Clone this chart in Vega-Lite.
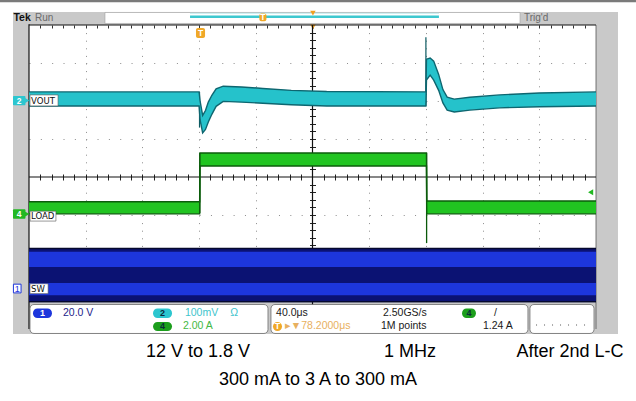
{
  "$schema": "https://vega.github.io/schema/vega-lite/v6.json",
  "width": 567,
  "height": 304,
  "autosize": {"type": "none"},
  "padding": {"left": 29, "top": 25, "right": 40, "bottom": 72},
  "background": "white",
  "config": {"view": {"stroke": null}, "font": "Liberation Sans"},
  "resolve": {"axis": {"x": "independent", "y": "independent"}, "scale": {"color": "independent"}},
  "layer": [
    {
      "data": {"values": [
        {"t": -20.46, "t2": 428.2, "d": 8.658, "d2": 8.6}
      ]},
      "mark": {"type": "rect", "color": "#7a7a7a"},
      "encoding": {
        "x": {"field": "t", "type": "quantitative", "scale": {"domain": [0, 400], "nice": false, "zero": false}, "axis": null},
        "x2": {"field": "t2"},
        "y": {"field": "d", "type": "quantitative", "scale": {"domain": [0, 8], "nice": false, "zero": false}, "axis": null},
        "y2": {"field": "d2"}
      }
    },
    {
      "data": {"values": [
        {"t": -11.29, "t2": 415.5, "d": 8.342, "d2": 8.0},
        {"t": -11.29, "t2": 0, "d": 8.342, "d2": -0.13},
        {"t": 400, "t2": 415.5, "d": 8.342, "d2": -0.13},
        {"t": -11.29, "t2": 415.5, "d": 0.7, "d2": -0.13}
      ]},
      "mark": {"type": "rect", "color": "#c9c9c9"},
      "encoding": {
        "x": {"field": "t", "type": "quantitative", "scale": {"domain": [0, 400], "nice": false, "zero": false}, "axis": null},
        "x2": {"field": "t2"},
        "y": {"field": "d", "type": "quantitative", "scale": {"domain": [0, 8], "nice": false, "zero": false}, "axis": null},
        "y2": {"field": "d2"}
      }
    },
    {
      "data": {"values": [
        {"t": 53.6, "t2": 346.4, "d": 8.33, "d2": 8.04}
      ]},
      "mark": {"type": "rect", "color": "white", "stroke": "#a0a0a0", "strokeWidth": 0.6},
      "encoding": {
        "x": {"field": "t", "type": "quantitative", "scale": {"domain": [0, 400], "nice": false, "zero": false}, "axis": null},
        "x2": {"field": "t2"},
        "y": {"field": "d", "type": "quantitative", "scale": {"domain": [0, 8], "nice": false, "zero": false}, "axis": null},
        "y2": {"field": "d2"}
      }
    },
    {
      "data": {"values": [
        {"t": 113.6, "t2": 289.2, "d": 8.22}
      ]},
      "mark": {"type": "rule", "color": "#3cc8cf", "strokeWidth": 2.5},
      "encoding": {
        "x": {"field": "t", "type": "quantitative", "scale": {"domain": [0, 400], "nice": false, "zero": false}, "axis": null},
        "x2": {"field": "t2"},
        "y": {"field": "d", "type": "quantitative", "scale": {"domain": [0, 8], "nice": false, "zero": false}, "axis": null}
      }
    },
    {
      "data": {"values": [
        {"t": 113.6, "t2": 289.2, "d": 8.31}
      ]},
      "mark": {"type": "rule", "color": "#a8e4e8", "strokeWidth": 0.8},
      "encoding": {
        "x": {"field": "t", "type": "quantitative", "scale": {"domain": [0, 400], "nice": false, "zero": false}, "axis": null},
        "x2": {"field": "t2"},
        "y": {"field": "d", "type": "quantitative", "scale": {"domain": [0, 8], "nice": false, "zero": false}, "axis": null}
      }
    },
    {
      "data": {"values": [
        {"t": 162.5, "t2": 167.5, "d": 8.3, "d2": 8.1},
        {"t": 117.8, "t2": 124.2, "d": 7.92, "d2": 7.66}
      ]},
      "mark": {"type": "rect", "color": "#f0a828", "cornerRadius": 2},
      "encoding": {
        "x": {"field": "t", "type": "quantitative", "scale": {"domain": [0, 400], "nice": false, "zero": false}, "axis": null},
        "x2": {"field": "t2"},
        "y": {"field": "d", "type": "quantitative", "scale": {"domain": [0, 8], "nice": false, "zero": false}, "axis": null},
        "y2": {"field": "d2"}
      }
    },
    {
      "data": {"values": [
        {"t": 200.3, "d": 8.31},
        {"t": 200.3, "d": 7.95}
      ]},
      "mark": {"type": "point", "shape": "triangle-down", "filled": true, "color": "#f0a020", "size": 30, "opacity": 1},
      "encoding": {
        "x": {"field": "t", "type": "quantitative", "scale": {"domain": [0, 400], "nice": false, "zero": false}, "axis": null},
        "y": {"field": "d", "type": "quantitative", "scale": {"domain": [0, 8], "nice": false, "zero": false}, "axis": null}
      }
    },
    {
      "data": {"values": [{"t": 0, "d": 0}]},
      "mark": {"type": "point", "opacity": 0},
      "encoding": {
        "x": {"field": "t", "type": "quantitative", "scale": {"domain": [0, 400], "nice": false, "zero": false},
          "axis": {"orient": "bottom", "grid": true, "values": [40, 80, 120, 160, 240, 280, 320, 360, 400], "gridDash": [1, 6.6], "gridColor": "#8c8c8c", "gridOpacity": 1, "gridWidth": 1, "domain": false, "ticks": false, "labels": false, "title": null}},
        "y": {"field": "d", "type": "quantitative", "scale": {"domain": [0, 8], "nice": false, "zero": false},
          "axis": {"orient": "left", "grid": true, "values": [1, 2, 3, 5, 6, 7], "gridDash": [1, 10.34], "gridColor": "#8c8c8c", "gridOpacity": 1, "gridWidth": 1, "domain": false, "ticks": false, "labels": false, "title": null}}
      }
    },
    {
      "data": {"values": [{"t": 0, "d": 0}]},
      "mark": {"type": "point", "opacity": 0},
      "encoding": {
        "x": {"field": "t", "type": "quantitative", "scale": {"domain": [0, 400], "nice": false, "zero": false},
          "axis": {"orient": "bottom", "offset": -155, "values": [8, 16, 24, 32, 40, 48, 56, 64, 72, 80, 88, 96, 104, 112, 120, 128, 136, 144, 152, 160, 168, 176, 184, 192, 208, 216, 224, 232, 240, 248, 256, 264, 272, 280, 288, 296, 304, 312, 320, 328, 336, 344, 352, 360, 368, 376, 384, 392], "tickSize": 6, "tickColor": "#222222", "tickWidth": 1, "domain": false, "labels": false, "grid": false, "title": null}},
        "y": {"field": "d", "type": "quantitative", "scale": {"domain": [0, 8], "nice": false, "zero": false},
          "axis": {"orient": "left", "offset": -286.5, "values": [0.2, 0.4, 0.6, 0.8, 1, 1.2, 1.4, 1.6, 1.8, 2, 2.2, 2.4, 2.6, 2.8, 3, 3.2, 3.4, 3.6, 3.8, 4.2, 4.4, 4.6, 4.8, 5, 5.2, 5.4, 5.6, 5.8, 6, 6.2, 6.4, 6.6, 6.8, 7, 7.2, 7.4, 7.6, 7.8], "tickSize": 6, "tickColor": "#222222", "tickWidth": 1, "domain": false, "labels": false, "grid": false, "title": null}}
      }
    },
    {
      "data": {"values": [{"t": 0, "d": 0}]},
      "mark": {"type": "point", "opacity": 0},
      "encoding": {
        "x": {"field": "t", "type": "quantitative", "scale": {"domain": [0, 400], "nice": false, "zero": false},
          "axis": {"orient": "bottom", "offset": -304, "values": [8, 16, 24, 32, 40, 48, 56, 64, 72, 80, 88, 96, 104, 112, 120, 128, 136, 144, 152, 160, 168, 176, 184, 192, 200, 208, 216, 224, 232, 240, 248, 256, 264, 272, 280, 288, 296, 304, 312, 320, 328, 336, 344, 352, 360, 368, 376, 384, 392], "tickSize": 3, "tickColor": "#333333", "tickWidth": 1, "domain": false, "labels": false, "grid": false, "title": null}},
        "y": {"field": "d", "type": "quantitative", "scale": {"domain": [0, 8], "nice": false, "zero": false}, "axis": null}
      }
    },
    {
      "data": {"values": [
        {"t": 200, "d": 0, "d2": 8},
        {"t": 0, "d": 0, "d2": 8.02}
      ]},
      "mark": {"type": "rule", "color": "#111111", "strokeWidth": 1.2},
      "encoding": {
        "x": {"field": "t", "type": "quantitative", "scale": {"domain": [0, 400], "nice": false, "zero": false}, "axis": null},
        "y": {"field": "d", "type": "quantitative", "scale": {"domain": [0, 8], "nice": false, "zero": false}, "axis": null},
        "y2": {"field": "d2"}
      }
    },
    {
      "data": {"values": [
        {"t": 400, "d": 0, "d2": 8}
      ]},
      "mark": {"type": "rule", "color": "#555555", "strokeWidth": 0.8},
      "encoding": {
        "x": {"field": "t", "type": "quantitative", "scale": {"domain": [0, 400], "nice": false, "zero": false}, "axis": null},
        "y": {"field": "d", "type": "quantitative", "scale": {"domain": [0, 8], "nice": false, "zero": false}, "axis": null},
        "y2": {"field": "d2"}
      }
    },
    {
      "data": {"values": [
        {"d": 4, "t": 0, "t2": 400},
        {"d": 8, "t": 0, "t2": 400}
      ]},
      "mark": {"type": "rule", "color": "#111111", "strokeWidth": 1.2},
      "encoding": {
        "x": {"field": "t", "type": "quantitative", "scale": {"domain": [0, 400], "nice": false, "zero": false}, "axis": null},
        "x2": {"field": "t2"},
        "y": {"field": "d", "type": "quantitative", "scale": {"domain": [0, 8], "nice": false, "zero": false}, "axis": null}
      }
    },
    {
      "data": {"values": [
        {"t": 0, "t2": 400, "d": 0.71, "d2": 2.13}
      ]},
      "mark": {"type": "rect", "color": "#0b1273"},
      "encoding": {
        "x": {"field": "t", "type": "quantitative", "scale": {"domain": [0, 400], "nice": false, "zero": false}, "axis": null},
        "x2": {"field": "t2"},
        "y": {"field": "d", "type": "quantitative", "scale": {"domain": [0, 8], "nice": false, "zero": false}, "axis": null},
        "y2": {"field": "d2"}
      }
    },
    {
      "data": {"values": [
        {"t": 0, "t2": 400, "d": 1.63, "d2": 2.03},
        {"t": 0, "t2": 400, "d": 0.89, "d2": 1.21}
      ]},
      "mark": {"type": "rect", "color": "#1d36dc"},
      "encoding": {
        "x": {"field": "t", "type": "quantitative", "scale": {"domain": [0, 400], "nice": false, "zero": false}, "axis": null},
        "x2": {"field": "t2"},
        "y": {"field": "d", "type": "quantitative", "scale": {"domain": [0, 8], "nice": false, "zero": false}, "axis": null},
        "y2": {"field": "d2"}
      }
    },
    {
      "data": {"values": [
        {"t": 0, "t2": 400, "d": 2.12},
        {"t": 0, "t2": 400, "d": 0.72}
      ]},
      "mark": {"type": "rule", "color": "#05082e", "strokeWidth": 1.5},
      "encoding": {
        "x": {"field": "t", "type": "quantitative", "scale": {"domain": [0, 400], "nice": false, "zero": false}, "axis": null},
        "x2": {"field": "t2"},
        "y": {"field": "d", "type": "quantitative", "scale": {"domain": [0, 8], "nice": false, "zero": false}, "axis": null}
      }
    },
    {
      "data": {"values": [
        {"t": 120.5, "d": 3.05, "d2": 4.63},
        {"t": 280.5, "d": 2.26, "d2": 4.63}
      ]},
      "mark": {"type": "rule", "color": "#0a5a0a", "strokeWidth": 1.3},
      "encoding": {
        "x": {"field": "t", "type": "quantitative", "scale": {"domain": [0, 400], "nice": false, "zero": false}, "axis": null},
        "y": {"field": "d", "type": "quantitative", "scale": {"domain": [0, 8], "nice": false, "zero": false}, "axis": null},
        "y2": {"field": "d2"}
      }
    },
    {
      "data": {"name": "load", "values": [
        {"t": 0, "lo": 3.03, "hi": 3.35},
        {"t": 120.4, "lo": 3.03, "hi": 3.35},
        {"t": 120.6, "lo": 4.29, "hi": 4.63},
        {"t": 280.4, "lo": 4.29, "hi": 4.63},
        {"t": 280.6, "lo": 3.03, "hi": 3.37},
        {"t": 400, "lo": 3.03, "hi": 3.37}
      ]},
      "layer": [
        {
          "mark": {"type": "area", "color": "#21c421", "opacity": 1},
          "encoding": {
            "x": {"field": "t", "type": "quantitative", "scale": {"domain": [0, 400], "nice": false, "zero": false}, "axis": null},
            "y": {"field": "lo", "type": "quantitative", "scale": {"domain": [0, 8], "nice": false, "zero": false}, "axis": null},
            "y2": {"field": "hi"}
          }
        },
        {
          "mark": {"type": "line", "color": "#0b5c0b", "strokeWidth": 1.4},
          "encoding": {
            "x": {"field": "t", "type": "quantitative", "scale": {"domain": [0, 400], "nice": false, "zero": false}, "axis": null},
            "y": {"field": "hi", "type": "quantitative", "scale": {"domain": [0, 8], "nice": false, "zero": false}, "axis": null}
          }
        },
        {
          "mark": {"type": "line", "color": "#0b5c0b", "strokeWidth": 1.4},
          "encoding": {
            "x": {"field": "t", "type": "quantitative", "scale": {"domain": [0, 400], "nice": false, "zero": false}, "axis": null},
            "y": {"field": "lo", "type": "quantitative", "scale": {"domain": [0, 8], "nice": false, "zero": false}, "axis": null}
          }
        }
      ]
    },
    {
      "data": {"values": [
        {"t": 280, "d": 5.87, "d2": 7.68},
        {"t": 120.3, "d": 5.3, "d2": 6.24}
      ]},
      "mark": {"type": "rule", "color": "#0d5a62", "strokeWidth": 1.2},
      "encoding": {
        "x": {"field": "t", "type": "quantitative", "scale": {"domain": [0, 400], "nice": false, "zero": false}, "axis": null},
        "y": {"field": "d", "type": "quantitative", "scale": {"domain": [0, 8], "nice": false, "zero": false}, "axis": null},
        "y2": {"field": "d2"}
      }
    },
    {
      "data": {"name": "vout", "values": [
        {"t": 0, "lo": 5.87, "hi": 6.24},
        {"t": 60, "lo": 5.87, "hi": 6.24},
        {"t": 120, "lo": 5.87, "hi": 6.24},
        {"t": 120.7, "lo": 5.5, "hi": 6.0},
        {"t": 122.5, "lo": 5.16, "hi": 5.62},
        {"t": 124.5, "lo": 5.25, "hi": 5.75},
        {"t": 126.5, "lo": 5.45, "hi": 5.97},
        {"t": 129, "lo": 5.65, "hi": 6.15},
        {"t": 132, "lo": 5.86, "hi": 6.32},
        {"t": 137, "lo": 5.99, "hi": 6.39},
        {"t": 150, "lo": 5.97, "hi": 6.37},
        {"t": 165, "lo": 5.94, "hi": 6.33},
        {"t": 185, "lo": 5.9, "hi": 6.28},
        {"t": 210, "lo": 5.87, "hi": 6.25},
        {"t": 280, "lo": 5.87, "hi": 6.24},
        {"t": 280.4, "lo": 6.55, "hi": 7.1},
        {"t": 283, "lo": 6.68, "hi": 7.13},
        {"t": 285.5, "lo": 6.55, "hi": 7.05},
        {"t": 289, "lo": 6.28, "hi": 6.7},
        {"t": 292, "lo": 5.95, "hi": 6.3},
        {"t": 295, "lo": 5.76, "hi": 6.1},
        {"t": 300, "lo": 5.71, "hi": 6.05},
        {"t": 311, "lo": 5.76, "hi": 6.1},
        {"t": 332, "lo": 5.82, "hi": 6.16},
        {"t": 360, "lo": 5.85, "hi": 6.21},
        {"t": 400, "lo": 5.87, "hi": 6.24}
      ]},
      "layer": [
        {
          "mark": {"type": "area", "color": "#25c2cb", "opacity": 1},
          "encoding": {
            "x": {"field": "t", "type": "quantitative", "scale": {"domain": [0, 400], "nice": false, "zero": false}, "axis": null},
            "y": {"field": "lo", "type": "quantitative", "scale": {"domain": [0, 8], "nice": false, "zero": false}, "axis": null},
            "y2": {"field": "hi"}
          }
        },
        {
          "mark": {"type": "line", "color": "#0e6670", "strokeWidth": 1.4},
          "encoding": {
            "x": {"field": "t", "type": "quantitative", "scale": {"domain": [0, 400], "nice": false, "zero": false}, "axis": null},
            "y": {"field": "hi", "type": "quantitative", "scale": {"domain": [0, 8], "nice": false, "zero": false}, "axis": null}
          }
        },
        {
          "mark": {"type": "line", "color": "#0e6670", "strokeWidth": 1.4},
          "encoding": {
            "x": {"field": "t", "type": "quantitative", "scale": {"domain": [0, 400], "nice": false, "zero": false}, "axis": null},
            "y": {"field": "lo", "type": "quantitative", "scale": {"domain": [0, 8], "nice": false, "zero": false}, "axis": null}
          }
        }
      ]
    },
    {
      "data": {"values": [
        {"t": 0.7, "t2": 20.5, "d": 6.16, "d2": 5.87},
        {"t": 0.7, "t2": 19, "d": 3.1, "d2": 2.84},
        {"t": 0.7, "t2": 13.5, "d": 1.19, "d2": 0.93}
      ]},
      "mark": {"type": "rect", "color": "white", "stroke": "#555555", "strokeWidth": 0.6},
      "encoding": {
        "x": {"field": "t", "type": "quantitative", "scale": {"domain": [0, 400], "nice": false, "zero": false}, "axis": null},
        "x2": {"field": "t2"},
        "y": {"field": "d", "type": "quantitative", "scale": {"domain": [0, 8], "nice": false, "zero": false}, "axis": null},
        "y2": {"field": "d2"}
      }
    },
    {
      "data": {"values": [
        {"t": -11.29, "t2": -2.5, "d": 6.13, "d2": 5.89}
      ]},
      "mark": {"type": "rect", "color": "#2cc6cf", "cornerRadius": 1},
      "encoding": {
        "x": {"field": "t", "type": "quantitative", "scale": {"domain": [0, 400], "nice": false, "zero": false}, "axis": null},
        "x2": {"field": "t2"},
        "y": {"field": "d", "type": "quantitative", "scale": {"domain": [0, 8], "nice": false, "zero": false}, "axis": null},
        "y2": {"field": "d2"}
      }
    },
    {
      "data": {"values": [
        {"t": -11.29, "t2": -2.5, "d": 3.15, "d2": 2.9}
      ]},
      "mark": {"type": "rect", "color": "#22b822", "cornerRadius": 1},
      "encoding": {
        "x": {"field": "t", "type": "quantitative", "scale": {"domain": [0, 400], "nice": false, "zero": false}, "axis": null},
        "x2": {"field": "t2"},
        "y": {"field": "d", "type": "quantitative", "scale": {"domain": [0, 8], "nice": false, "zero": false}, "axis": null},
        "y2": {"field": "d2"}
      }
    },
    {
      "data": {"values": [
        {"t": -11.0, "t2": -5.6, "d": 1.18, "d2": 0.95}
      ]},
      "mark": {"type": "rect", "color": "white", "stroke": "#1d36dc", "strokeWidth": 1},
      "encoding": {
        "x": {"field": "t", "type": "quantitative", "scale": {"domain": [0, 400], "nice": false, "zero": false}, "axis": null},
        "x2": {"field": "t2"},
        "y": {"field": "d", "type": "quantitative", "scale": {"domain": [0, 8], "nice": false, "zero": false}, "axis": null},
        "y2": {"field": "d2"}
      }
    },
    {
      "data": {"values": [
        {"t": -1.8, "d": 6.01}
      ]},
      "mark": {"type": "point", "shape": "triangle-right", "filled": true, "size": 45, "opacity": 1, "color": "#2cc6cf"},
      "encoding": {
        "x": {"field": "t", "type": "quantitative", "scale": {"domain": [0, 400], "nice": false, "zero": false}, "axis": null},
        "y": {"field": "d", "type": "quantitative", "scale": {"domain": [0, 8], "nice": false, "zero": false}, "axis": null}
      }
    },
    {
      "data": {"values": [
        {"t": -1.8, "d": 3.025}
      ]},
      "mark": {"type": "point", "shape": "triangle-right", "filled": true, "size": 45, "opacity": 1, "color": "#22b822"},
      "encoding": {
        "x": {"field": "t", "type": "quantitative", "scale": {"domain": [0, 400], "nice": false, "zero": false}, "axis": null},
        "y": {"field": "d", "type": "quantitative", "scale": {"domain": [0, 8], "nice": false, "zero": false}, "axis": null}
      }
    },
    {
      "data": {"values": [
        {"t": 396.2, "d": 3.6}
      ]},
      "mark": {"type": "point", "shape": "triangle-left", "filled": true, "size": 35, "color": "#22b822", "opacity": 1},
      "encoding": {
        "x": {"field": "t", "type": "quantitative", "scale": {"domain": [0, 400], "nice": false, "zero": false}, "axis": null},
        "y": {"field": "d", "type": "quantitative", "scale": {"domain": [0, 8], "nice": false, "zero": false}, "axis": null}
      }
    },
    {
      "data": {"values": [
        {"t": -6.9, "d": 6.01, "txt": "2"},
        {"t": -6.9, "d": 3.025, "txt": "4"},
        {"t": 121, "d": 7.79, "txt": "T"},
        {"t": 165, "d": 8.2, "txt": "T"}
      ]},
      "mark": {"type": "text", "color": "white", "fontSize": 8.5, "fontWeight": "bold", "align": "center", "baseline": "middle"},
      "encoding": {
        "x": {"field": "t", "type": "quantitative", "scale": {"domain": [0, 400], "nice": false, "zero": false}, "axis": null},
        "y": {"field": "d", "type": "quantitative", "scale": {"domain": [0, 8], "nice": false, "zero": false}, "axis": null},
        "text": {"field": "txt"}
      }
    },
    {
      "data": {"values": [
        {"t": -8.3, "d": 1.065, "txt": "1"}
      ]},
      "mark": {"type": "text", "color": "#1d36dc", "fontSize": 9, "align": "center", "baseline": "middle"},
      "encoding": {
        "x": {"field": "t", "type": "quantitative", "scale": {"domain": [0, 400], "nice": false, "zero": false}, "axis": null},
        "y": {"field": "d", "type": "quantitative", "scale": {"domain": [0, 8], "nice": false, "zero": false}, "axis": null},
        "text": {"field": "txt"}
      }
    },
    {
      "data": {"values": [
        {"t": 1.4, "d": 6.01, "txt": "VOUT"},
        {"t": 1.4, "d": 2.97, "txt": "LOAD"},
        {"t": 1.4, "d": 1.06, "txt": "SW"}
      ]},
      "mark": {"type": "text", "color": "#111111", "fontSize": 9.5, "font": "DejaVu Sans Condensed", "align": "left", "baseline": "middle"},
      "encoding": {
        "x": {"field": "t", "type": "quantitative", "scale": {"domain": [0, 400], "nice": false, "zero": false}, "axis": null},
        "y": {"field": "d", "type": "quantitative", "scale": {"domain": [0, 8], "nice": false, "zero": false}, "axis": null},
        "text": {"field": "txt"}
      }
    },
    {
      "data": {"values": [
        {"t": -11.0, "d": 8.18, "txt": "Tek"}
      ]},
      "mark": {"type": "text", "color": "#111111", "fontSize": 10.5, "fontWeight": "bold", "align": "left", "baseline": "middle"},
      "encoding": {
        "x": {"field": "t", "type": "quantitative", "scale": {"domain": [0, 400], "nice": false, "zero": false}, "axis": null},
        "y": {"field": "d", "type": "quantitative", "scale": {"domain": [0, 8], "nice": false, "zero": false}, "axis": null},
        "text": {"field": "txt"}
      }
    },
    {
      "data": {"values": [
        {"t": 4.2, "d": 8.18, "txt": "Run"},
        {"t": 349.2, "d": 8.18, "txt": "Trig'd"}
      ]},
      "mark": {"type": "text", "color": "#6a6a6a", "fontSize": 10, "align": "left", "baseline": "middle"},
      "encoding": {
        "x": {"field": "t", "type": "quantitative", "scale": {"domain": [0, 400], "nice": false, "zero": false}, "axis": null},
        "y": {"field": "d", "type": "quantitative", "scale": {"domain": [0, 8], "nice": false, "zero": false}, "axis": null},
        "text": {"field": "txt"}
      }
    },
    {
      "data": {"values": [
        {"t": 0.7, "t2": 168.6, "d": 0.645, "d2": -0.118},
        {"t": 170.7, "t2": 352.0, "d": 0.645, "d2": -0.118},
        {"t": 353.4, "t2": 398.6, "d": 0.645, "d2": -0.118}
      ]},
      "mark": {"type": "rect", "color": "white", "stroke": "#6a6a6a", "strokeWidth": 0.8, "cornerRadius": 4},
      "encoding": {
        "x": {"field": "t", "type": "quantitative", "scale": {"domain": [0, 400], "nice": false, "zero": false}, "axis": null},
        "x2": {"field": "t2"},
        "y": {"field": "d", "type": "quantitative", "scale": {"domain": [0, 8], "nice": false, "zero": false}, "axis": null},
        "y2": {"field": "d2"}
      }
    },
    {
      "data": {"values": [
        {"t": 2.8, "t2": 16.2, "d": 0.54, "d2": 0.29, "s": "b"},
        {"t": 87.5, "t2": 100.9, "d": 0.54, "d2": 0.29, "s": "c"},
        {"t": 87.5, "t2": 100.9, "d": 0.184, "d2": -0.053, "s": "g"},
        {"t": 305.5, "t2": 315.3, "d": 0.54, "d2": 0.29, "s": "g"},
        {"t": 172.1, "t2": 178.5, "d": 0.184, "d2": -0.053, "s": "o"}
      ]},
      "mark": {"type": "rect", "cornerRadius": 4.5},
      "encoding": {
        "x": {"field": "t", "type": "quantitative", "scale": {"domain": [0, 400], "nice": false, "zero": false}, "axis": null},
        "x2": {"field": "t2"},
        "y": {"field": "d", "type": "quantitative", "scale": {"domain": [0, 8], "nice": false, "zero": false}, "axis": null},
        "y2": {"field": "d2"},
        "color": {"field": "s", "type": "nominal", "scale": {"domain": ["b", "c", "g", "o"], "range": ["#1d36dc", "#2cc6cf", "#1c9e1c", "#f0a828"]}, "legend": null}
      }
    },
    {
      "data": {"values": [
        {"t": 9.5, "d": 0.415, "txt": "1", "s": "w"},
        {"t": 94.2, "d": 0.415, "txt": "2", "s": "k"},
        {"t": 94.2, "d": 0.066, "txt": "4", "s": "k"},
        {"t": 310.4, "d": 0.415, "txt": "4", "s": "k"},
        {"t": 175.3, "d": 0.066, "txt": "T", "s": "w"}
      ]},
      "mark": {"type": "text", "fontSize": 9, "fontWeight": "bold", "align": "center", "baseline": "middle"},
      "encoding": {
        "x": {"field": "t", "type": "quantitative", "scale": {"domain": [0, 400], "nice": false, "zero": false}, "axis": null},
        "y": {"field": "d", "type": "quantitative", "scale": {"domain": [0, 8], "nice": false, "zero": false}, "axis": null},
        "text": {"field": "txt"},
        "color": {"field": "s", "type": "nominal", "scale": {"domain": ["w", "k"], "range": ["#ffffff", "#0c2a3a"]}, "legend": null}
      }
    },
    {
      "data": {"values": [
        {"t": 24, "d": 0.408, "txt": "20.0 V", "s": "b"},
        {"t": 110, "d": 0.408, "txt": "100mV", "s": "c"},
        {"t": 142, "d": 0.408, "txt": "Ω", "s": "c"},
        {"t": 108.6, "d": 0.066, "txt": "2.00 A", "s": "g"},
        {"t": 174.3, "d": 0.408, "txt": "40.0μs", "s": "k"},
        {"t": 180.5, "d": 0.066, "txt": "▸▼78.2000μs", "s": "o"},
        {"t": 249.7, "d": 0.408, "txt": "2.50GS/s", "s": "k"},
        {"t": 248.3, "d": 0.066, "txt": "1M points", "s": "k"},
        {"t": 328, "d": 0.408, "txt": "/", "s": "k"},
        {"t": 320.3, "d": 0.066, "txt": "1.24 A", "s": "k"}
      ]},
      "mark": {"type": "text", "fontSize": 10.5, "align": "left", "baseline": "middle"},
      "encoding": {
        "x": {"field": "t", "type": "quantitative", "scale": {"domain": [0, 400], "nice": false, "zero": false}, "axis": null},
        "y": {"field": "d", "type": "quantitative", "scale": {"domain": [0, 8], "nice": false, "zero": false}, "axis": null},
        "text": {"field": "txt"},
        "color": {"field": "s", "type": "nominal", "scale": {"domain": ["b", "c", "g", "k", "o"], "range": ["#22228a", "#40c4cc", "#44b844", "#1a1a1a", "#e8b060"]}, "legend": null}
      }
    },
    {
      "data": {"values": [
        {"t": 357.7, "t2": 397.2, "d": 0.105}
      ]},
      "mark": {"type": "rule", "color": "#555555", "strokeWidth": 1, "strokeDash": [1, 7]},
      "encoding": {
        "x": {"field": "t", "type": "quantitative", "scale": {"domain": [0, 400], "nice": false, "zero": false}, "axis": null},
        "x2": {"field": "t2"},
        "y": {"field": "d", "type": "quantitative", "scale": {"domain": [0, 8], "nice": false, "zero": false}, "axis": null}
      }
    },
    {
      "data": {"values": [
        {"t": 119.2, "d": -0.605, "txt": "12 V to 1.8 V"},
        {"t": 268.8, "d": -0.605, "txt": "1 MHz"},
        {"t": 381.7, "d": -0.605, "txt": "After 2nd L-C"},
        {"t": 203.9, "d": -1.342, "txt": "300 mA to 3 A to 300 mA"}
      ]},
      "mark": {"type": "text", "color": "#000000", "fontSize": 18, "font": "Liberation Sans", "align": "center", "baseline": "middle"},
      "encoding": {
        "x": {"field": "t", "type": "quantitative", "scale": {"domain": [0, 400], "nice": false, "zero": false}, "axis": null},
        "y": {"field": "d", "type": "quantitative", "scale": {"domain": [0, 8], "nice": false, "zero": false}, "axis": null},
        "text": {"field": "txt"}
      }
    }
  ]
}
